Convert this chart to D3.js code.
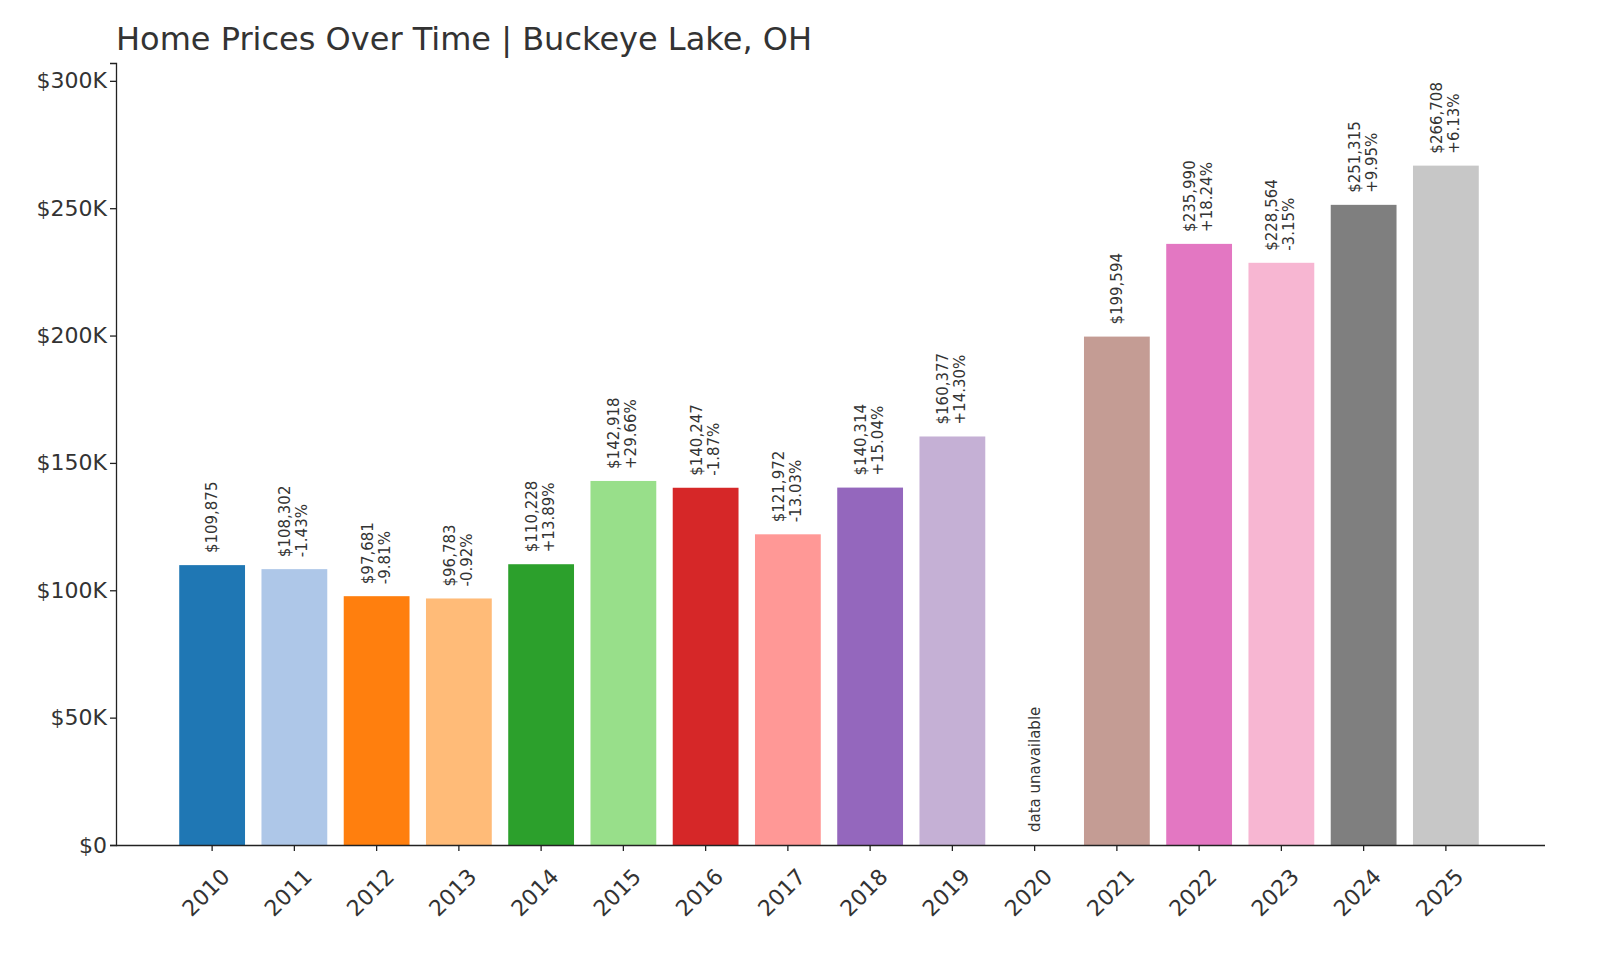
<!DOCTYPE html>
<html><head><meta charset="utf-8">
<script src="https://cdn.jsdelivr.net/npm/d3@7"></script>
<style>body{margin:0;background:#fff;font-family:"DejaVu Sans",sans-serif}</style>
</head><body><svg id="c" width="1600" height="960"></svg>
<script>
const years=["2010","2011","2012","2013","2014","2015","2016","2017","2018","2019","2020","2021","2022","2023","2024","2025"];
const values=[109875,108302,97681,96783,110228,142918,140247,121972,140314,160377,null,199594,235990,228564,251315,266708];
const changes=[null,"-1.43%","-9.81%","-0.92%","+13.89%","+29.66%","-1.87%","-13.03%","+15.04%","+14.30%",null,null,"+18.24%","-3.15%","+9.95%","+6.13%"];
const colors=["#1f77b4","#aec7e8","#ff7f0e","#ffbb78","#2ca02c","#98df8a","#d62728","#ff9896","#9467bd","#c5b0d5","#8c564b","#c49c94","#e377c2","#f7b6d2","#7f7f7f","#c7c7c7"];
const yTicks=[0,50000,100000,150000,200000,250000,300000];
const yTickLabels=["$0","$50K","$100K","$150K","$200K","$250K","$300K"];

const svg=d3.select("#c");
const x=d3.scaleBand().domain(years).range([171,1487]).paddingInner(0.2).paddingOuter(0.1);
const y=d3.scaleLinear().domain([0,307000]).range([845,63]);
const fmt=d3.format(",");

svg.append("text").attr("x",116).attr("y",50).attr("font-size",32).attr("fill","#333").text("Home Prices Over Time | Buckeye Lake, OH");

years.forEach((yr,i)=>{
  const v=values[i];
  const cx=x(yr)+x.bandwidth()/2;
  if(v==null){
    svg.append("text").attr("transform",`translate(${cx+5},832) rotate(-90)`).attr("font-size",15).attr("fill","#333").text("data unavailable");
    return;
  }
  svg.append("rect").attr("x",x(yr)).attr("width",x.bandwidth()).attr("y",y(v)).attr("height",y(0)-y(v)).attr("fill",colors[i]);
  const g=svg.append("g").attr("transform",`translate(${cx},${y(v)-12}) rotate(-90)`).attr("font-size",15).attr("fill","#333");
  if(changes[i]){
    g.append("text").attr("x",0).attr("y",-4).text("$"+fmt(v));
    g.append("text").attr("x",0).attr("y",13).text(changes[i]);
  } else {
    g.append("text").attr("x",0).attr("y",5).text("$"+fmt(v));
  }
});

const ya=svg.append("g").attr("transform","translate(116,0)").call(d3.axisLeft(y).tickValues(yTicks).tickFormat((d,i)=>yTickLabels[i]).tickSizeOuter(0).tickSize(6));
ya.selectAll("text").attr("font-size",22).attr("fill","#333").attr("font-family","DejaVu Sans");
const xa=svg.append("g").attr("transform","translate(0,845)").call(d3.axisBottom(x).tickSizeOuter(0).tickSize(6));
xa.select(".domain").attr("d","M116,0.5H1545");
xa.selectAll("text").attr("font-size",22).attr("fill","#333").attr("font-family","DejaVu Sans")
  .attr("text-anchor","end").attr("dy","0.3em").attr("transform","translate(8,22) rotate(-45)");
svg.selectAll(".domain,.tick line").attr("stroke","#222").attr("stroke-width",1.3);
</script></body></html>
